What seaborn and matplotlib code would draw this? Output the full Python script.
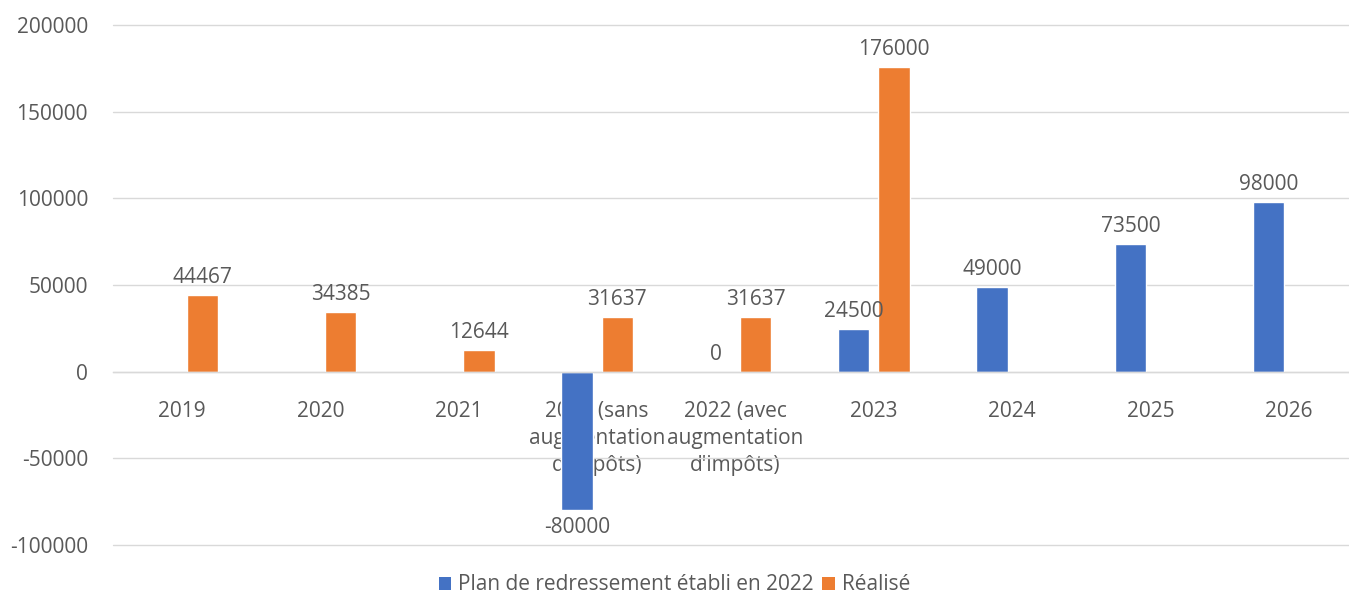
import numpy as np
import pandas as pd
import matplotlib
matplotlib.use("Agg")
import matplotlib.pyplot as plt
from matplotlib.patches import Patch
import seaborn as sns

categories = ["2019", "2020", "2021", "2022 (sans\naugmentation\nd'impôts)",
              "2022 (avec\naugmentation\nd'impôts)", "2023", "2024", "2025", "2026"]
plan = [np.nan, np.nan, np.nan, -80000, 0, 24500, 49000, 73500, 98000]
realise = [44467, 34385, 12644, 31637, 31637, 176000, np.nan, np.nan, np.nan]
series_names = ["Plan de redressement établi en 2022", "Réalisé"]
colors = ["#4472C4", "#ED7D31"]
y_ticks = [-100000, -50000, 0, 50000, 100000, 150000, 200000]

df = pd.DataFrame({
    "cat": categories * 2,
    "serie": [series_names[0]] * len(categories) + [series_names[1]] * len(categories),
    "val": plan + realise,
})
df = df.dropna()

sns.set_theme(style="white")
plt.rcParams["font.family"] = ["Open Sans", "DejaVu Sans"]
txt = "#595959"
fs = 15

fig = plt.figure(figsize=(13.49, 5.98), dpi=100)
W, H = 1349, 598
left, right, top, bottom = 113, 1358, 25, 545
ax = fig.add_axes([left / W, (H - bottom) / H, (right - left) / W, (bottom - top) / H])

sns.barplot(data=df, x="cat", y="val", hue="serie", order=categories,
            hue_order=series_names, palette=colors, width=0.58, gap=0.22,
            saturation=1, ax=ax, legend=False, errorbar=None)

ax.set_ylim(-100000, 200000)
ax.set_xlim(-0.5, len(categories) - 0.5)
ax.set_yticks(y_ticks)
ax.set_yticklabels([str(v) for v in y_ticks])
ax.set_xlabel("")
ax.set_ylabel("")
ax.set_axisbelow(True)
ax.grid(axis="y", color="#D9D9D9", linewidth=1.0)
ax.grid(axis="x", visible=False)
for gl in ax.get_ygridlines():
    gl.set_clip_on(False)
for s in ["top", "right", "left"]:
    ax.spines[s].set_visible(False)
ax.spines["bottom"].set_position(("data", 0))
ax.spines["bottom"].set_color("#D9D9D9")
ax.spines["bottom"].set_linewidth(1.0)
ax.tick_params(axis="x", length=0, pad=21, labelsize=fs, labelcolor=txt)
ax.tick_params(axis="y", length=0, pad=18, labelsize=fs, labelcolor=txt)
for lab in ax.get_xticklabels():
    lab.set_linespacing(1.38)
    lab.set_verticalalignment("top")

for cont in ax.containers:
    ax.bar_label(cont, fmt="%d", padding=5, fontsize=fs, color=txt)

handles = [Patch(facecolor=c, edgecolor="none") for c in colors]
fig.legend(handles, series_names, loc="center", ncol=2,
           bbox_to_anchor=(0.5, (H - 585) / H), frameon=False,
           fontsize=fs, labelcolor=txt, handlelength=0.6, handleheight=0.6,
           handletextpad=0.35, columnspacing=0.4)

fig.savefig("out.png", dpi=100)
